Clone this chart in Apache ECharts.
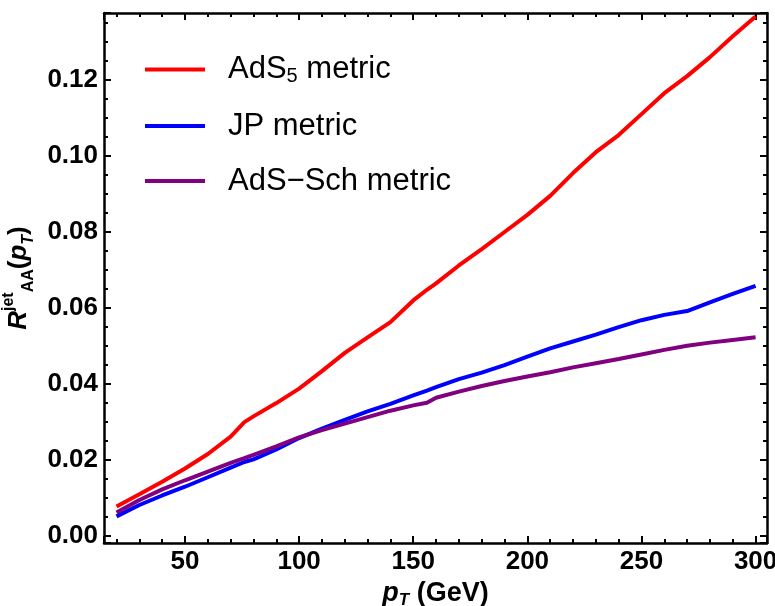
<!DOCTYPE html>
<html><head><meta charset="utf-8">
<script src="https://cdn.jsdelivr.net/npm/echarts@6/dist/echarts.min.js"></script>
<style>html,body{margin:0;padding:0;background:#fff}#c{width:775px;height:606px}</style>
</head><body><div id="c"></div>
<script>
// ---- data ----
const ptValues     = [20, 30, 40, 50, 60, 70, 76, 80, 90, 100, 110, 120, 130, 140, 150, 156, 160, 170, 180, 190, 200, 210, 220, 230, 240, 250, 260, 270, 280, 290, 300];
const ads5Values   = [0.0078,0.0110,0.0143,0.0178,0.0216,0.0262,0.0300,0.0315,0.0350,0.0388,0.0434,0.0482,0.0523,0.0563,0.0620,0.0648,0.0665,0.0712,0.0755,0.0800,0.0845,0.0895,0.0955,0.1010,0.1055,0.1110,0.1165,0.1210,0.1260,0.1315,0.1367];
const jpValues     = [0.0052,0.0082,0.0107,0.0130,0.0155,0.0180,0.0195,0.0202,0.0228,0.0258,0.0283,0.0306,0.0328,0.0348,0.0370,0.0383,0.0392,0.0413,0.0430,0.0450,0.0472,0.0494,0.0512,0.0530,0.0550,0.0568,0.0582,0.0592,0.0615,0.0637,0.0658];
const adsSchValues = [0.0062,0.0095,0.0123,0.0147,0.0170,0.0193,0.0205,0.0214,0.0236,0.0260,0.0279,0.0296,0.0313,0.0330,0.0344,0.0351,0.0364,0.0380,0.0395,0.0408,0.0420,0.0431,0.0444,0.0455,0.0466,0.0478,0.0490,0.0501,0.0509,0.0516,0.0523];
const seriesNames  = ['AdS5 metric', 'JP metric', 'AdS\u2212Sch metric'];
const seriesColors = ['#ff0000', '#0000ff', '#800080'];
const xTickLabels  = [50, 100, 150, 200, 250, 300];
const yTickLabels  = ['0.00', '0.02', '0.04', '0.06', '0.08', '0.10', '0.12'];

const FONT = '"Liberation Sans", Arial, Helvetica, sans-serif';
const chart = echarts.init(document.getElementById('c'), null, {renderer: 'canvas'});

function pairs(ys) { return ptValues.map((x, i) => [x, ys[i]]); }

const xMin = 14.5, xMax = 305, yMin = -0.0018, yMax = 0.1376;

function xAxisDef(pos, showLabel) {
  return {
    type: 'value', position: pos, min: xMin, max: xMax,
    minInterval: 50, maxInterval: 50,
    axisLine: {onZero: false, lineStyle: {color: '#000', width: 2.5}},
    axisTick: {inside: true, length: 7, lineStyle: {color: '#000', width: 2}},
    minorTick: {show: true, splitNumber: 5, length: 4, lineStyle: {color: '#000', width: 2}},
    splitLine: {show: false},
    axisLabel: {
      show: showLabel, showMinLabel: false, showMaxLabel: false,
      color: '#000', fontFamily: FONT, fontWeight: 'bold', fontSize: 26, margin: 6,
      formatter: v => xTickLabels.some(t => Math.abs(t - v) < 1e-6) ? String(v) : ''
    },
    name: showLabel ? '{i|p}{s|T}{n| (GeV)}' : '',
    nameLocation: 'middle', nameGap: 35,
    nameTextStyle: {
      rich: {
        i: {fontFamily: FONT, fontWeight: 'bold', fontStyle: 'italic', fontSize: 27, color: '#000', lineHeight: 30},
        s: {fontFamily: FONT, fontWeight: 'bold', fontStyle: 'italic', fontSize: 17, color: '#000', lineHeight: 20, verticalAlign: 'bottom'},
        n: {fontFamily: FONT, fontWeight: 'bold', fontSize: 27, color: '#000', lineHeight: 30}
      }
    }
  };
}
function yAxisDef(pos, showLabel) {
  return {
    type: 'value', position: pos, min: yMin, max: yMax,
    minInterval: 0.02, maxInterval: 0.02,
    axisLine: {onZero: false, lineStyle: {color: '#000', width: 2.5}},
    axisTick: {inside: true, length: 7, lineStyle: {color: '#000', width: 2}},
    minorTick: {show: true, splitNumber: 4, length: 4, lineStyle: {color: '#000', width: 2}},
    splitLine: {show: false},
    axisLabel: {
      show: showLabel, showMinLabel: false, showMaxLabel: false,
      color: '#000', fontFamily: FONT, fontWeight: 'bold', fontSize: 26, margin: 6,
      formatter: v => { const s = (Math.abs(v) < 1e-9 ? 0 : v).toFixed(2); return yTickLabels.indexOf(s) >= 0 ? s : ''; }
    },
    name: showLabel ? '{r|R}{sup|jet}{sub|AA}{n|(}{i|p}{is|T}{n|)}' : '',
    nameLocation: 'middle', nameGap: 61, nameRotate: 90,
    nameTextStyle: {
      rich: {
        r: {fontFamily: FONT, fontWeight: 'bold', fontStyle: 'italic', fontSize: 26, color: '#000', lineHeight: 36},
        sup: {fontFamily: FONT, fontWeight: 'bold', fontSize: 16, color: '#000', lineHeight: 24, verticalAlign: 'top'},
        sub: {fontFamily: FONT, fontWeight: 'bold', fontSize: 16, color: '#000', lineHeight: 10, verticalAlign: 'bottom'},
        n: {fontFamily: FONT, fontWeight: 'bold', fontSize: 26, color: '#000', lineHeight: 36},
        i: {fontFamily: FONT, fontWeight: 'bold', fontStyle: 'italic', fontSize: 26, color: '#000', lineHeight: 36},
        is: {fontFamily: FONT, fontWeight: 'bold', fontStyle: 'italic', fontSize: 16, color: '#000', lineHeight: 16, verticalAlign: 'bottom'}
      }
    }
  };
}

const legendRich = {
  sp: {width: 18},
  n: {fontFamily: FONT, fontSize: 31, color: '#000', lineHeight: 34},
  s: {fontFamily: FONT, fontSize: 20, color: '#000', lineHeight: 22, verticalAlign: 'bottom'}
};

chart.setOption({
  backgroundColor: '#fff',
  animation: false,
  grid: {left: 104, right: 8, top: 13, bottom: 63, containLabel: false, outerBoundsMode: 'none'},
  xAxis: [xAxisDef('bottom', true), xAxisDef('top', false)],
  yAxis: [yAxisDef('left', true), yAxisDef('right', false)],
  legend: {
    orient: 'vertical', left: 140, top: 49, itemWidth: 60, itemHeight: 4, itemGap: 24,
    icon: 'rect', data: seriesNames,
    formatter: name => name === seriesNames[0] ? '{sp|}{n|AdS}{s|5}{n| metric}' : '{sp|}{n|' + name + '}',
    textStyle: {rich: legendRich}
  },
  series: [ads5Values, jpValues, adsSchValues].map((ys, k) => ({
    name: seriesNames[k], type: 'line', xAxisIndex: 0, yAxisIndex: 0,
    data: pairs(ys), showSymbol: false, symbol: 'none', smooth: false,
    color: seriesColors[k],
    lineStyle: {color: seriesColors[k], width: 4}
  }))
});
</script></body></html>
